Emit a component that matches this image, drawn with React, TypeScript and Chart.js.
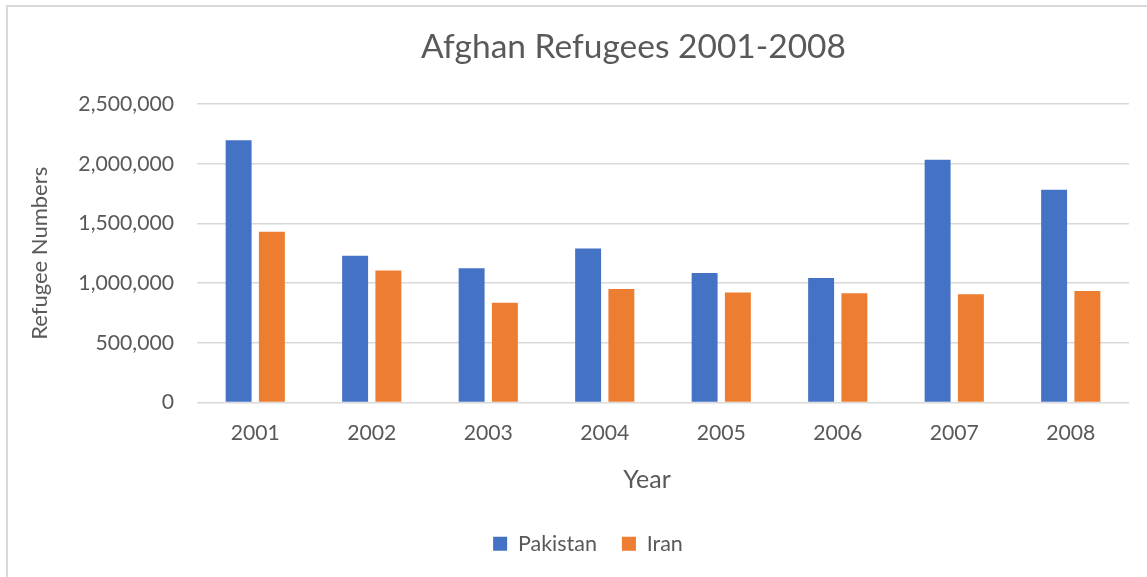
import React, { useEffect, useRef } from "react";
import { Chart, registerables } from "chart.js";

Chart.register(...registerables);

const years = ["2001", "2002", "2003", "2004", "2005", "2006", "2007", "2008"];
const pakistan = [2197000, 1229000, 1125000, 1290000, 1086000, 1044000, 2035000, 1783000];
const iran = [1431000, 1106000, 837000, 952000, 921000, 915000, 907000, 935000];
const yMin = 0;
const yMax = 2500000;
const yStep = 500000;

const FONT = "Lato, 'Open Sans', sans-serif";
const TEXT = "#595959";

const framePlugin = {
  id: "frame",
  beforeDraw(chart: any) {
    const ctx = chart.ctx;
    ctx.save();
    ctx.fillStyle = "#ffffff";
    ctx.fillRect(0, 0, chart.width, chart.height);
    ctx.strokeStyle = "#d9d9d9";
    ctx.lineWidth = 2;
    ctx.strokeRect(7, 6, chart.width + 20, chart.height + 20);
    ctx.restore();
  },
};

// Excel's chart is wider than the visible crop, so title / legend / axis title sit off-centre
const shiftPlugin = {
  id: "shiftBlocks",
  afterLayout(chart: any) {
    const t = chart.titleBlock;
    if (t) {
      t.left += 65;
      t.right += 65;
    }
    const l = chart.legend;
    if (l) {
      l.left += 19.5;
      l.right += 19.5;
    }
    const x = chart.scales.x;
    if (x) {
      x.left -= 16;
      x.right -= 16;
    }
  },
};

export default function App() {
  const ref = useRef<HTMLCanvasElement | null>(null);

  useEffect(() => {
    if (!ref.current) return;
    const chart = new Chart(ref.current, {
      type: "bar",
      data: {
        labels: years,
        datasets: [
          {
            label: "Pakistan",
            data: pakistan,
            backgroundColor: "#4472C4",
            categoryPercentage: 0.571,
            barPercentage: 0.78,
          },
          {
            label: "Iran",
            data: iran,
            backgroundColor: "#ED7D31",
            categoryPercentage: 0.571,
            barPercentage: 0.78,
          },
        ],
      },
      plugins: [framePlugin, shiftPlugin],
      options: {
        animation: false,
        responsive: false,
        maintainAspectRatio: false,
        layout: { padding: { left: 8, right: 18, top: 0, bottom: 12.5 } },
        plugins: {
          title: {
            display: true,
            text: "Afghan Refugees 2001-2008",
            color: TEXT,
            font: { family: FONT, size: 33.5, weight: "normal" },
            padding: { top: 27, bottom: 37 },
          },
          legend: {
            position: "bottom",
            labels: {
              color: TEXT,
              font: { family: FONT, size: 21.5 },
              boxWidth: 14,
              boxHeight: 14,
              padding: 25,
            },
          },
          tooltip: { enabled: false },
        },
        scales: {
          x: {
            grid: { display: false, drawTicks: false },
            border: { display: false },
            ticks: {
              color: TEXT,
              font: { family: FONT, size: 21.2 },
              padding: 18,
            },
            title: {
              display: true,
              text: "Year",
              color: TEXT,
              font: { family: FONT, size: 25 },
              padding: { top: 0, bottom: 13 },
            },
            afterFit: (s: any) => {
              s.height = 105.5;
            },
          },
          y: {
            min: yMin,
            max: yMax,
            grid: { color: "#d9d9d9", lineWidth: 1.5, drawTicks: false },
            border: { display: false },
            ticks: {
              stepSize: yStep,
              color: TEXT,
              font: { family: FONT, size: 21.2 },
              padding: 23,
              callback: (v: any) => Number(v).toLocaleString("en-US"),
            },
            title: {
              display: true,
              text: "Refugee Numbers",
              color: TEXT,
              font: { family: FONT, size: 22 },
              padding: { top: 19, bottom: 0 },
            },
            afterFit: (s: any) => {
              s.width = 189;
            },
          },
        },
      },
    });
    return () => chart.destroy();
  }, []);

  return (
    <div style={{ position: "absolute", left: 0, top: 0, width: 1147, height: 577, background: "#fff" }}>
      <canvas ref={ref} width={1147} height={577} style={{ display: "block" }} />
    </div>
  );
}
